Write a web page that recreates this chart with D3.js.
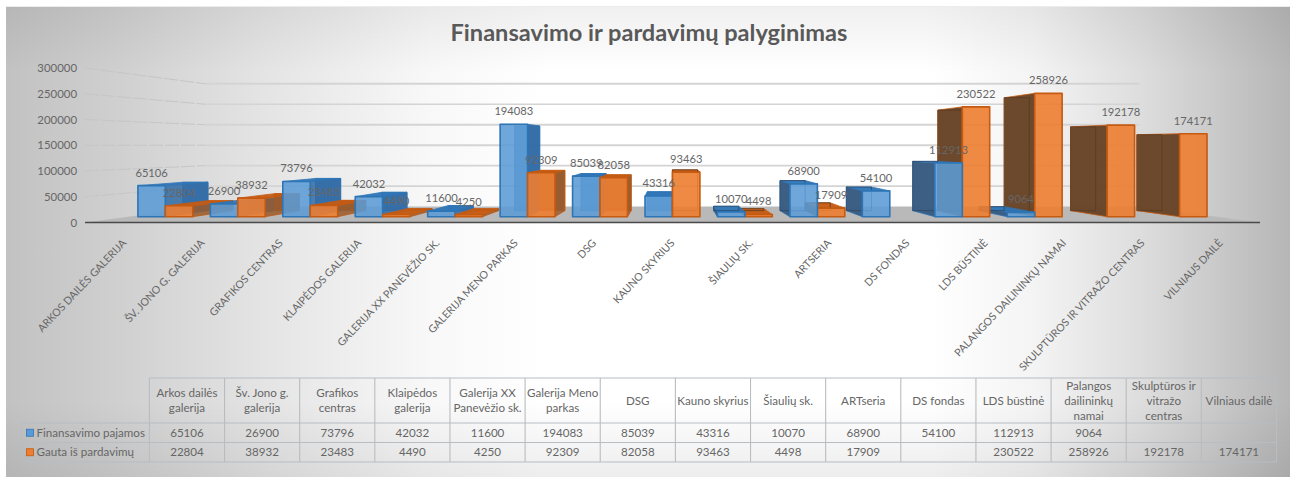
<!DOCTYPE html>
<html><head><meta charset="utf-8">
<script src="https://cdnjs.cloudflare.com/ajax/libs/d3/7.8.5/d3.min.js"></script>
<style>html,body{margin:0;background:#fff}svg{display:block}text{font-family:Lato,sans-serif}</style>
</head><body><svg id="c" width="1290" height="477"></svg>
<script>
const categories=["ARKOS DAILĖS GALERIJA","ŠV. JONO G. GALERIJA","GRAFIKOS CENTRAS","KLAIPĖDOS GALERIJA","GALERIJA XX PANEVĖŽIO SK.","GALERIJA MENO PARKAS","DSG","KAUNO SKYRIUS","ŠIAULIŲ SK.","ARTSERIA","DS FONDAS","LDS BŪSTINĖ","PALANGOS DAILININKŲ NAMAI","SKULPTŪROS IR VITRAŽO CENTRAS","VILNIAUS DAILĖ"];
const tableHeaders=[["Arkos dailės","galerija"],["Šv. Jono g.","galerija"],["Grafikos","centras"],["Klaipėdos","galerija"],["Galerija XX","Panevėžio sk."],["Galerija Meno","parkas"],["DSG"],["Kauno skyrius"],["Šiaulių sk."],["ARTseria"],["DS fondas"],["LDS būstinė"],["Palangos","dailininkų","namai"],["Skulptūros ir","vitražo","centras"],["Vilniaus dailė"]];
const seriesNames=["Finansavimo pajamos","Gauta iš pardavimų"];
const finansavimo=[65106,26900,73796,42032,11600,194083,85039,43316,10070,68900,54100,112913,9064,null,null];
const pardavimai=[22804,38932,23483,4490,4250,92309,82058,93463,4498,17909,null,230522,258926,192178,174171];
const yTicks=[0,50000,100000,150000,200000,250000,300000];
const title="Finansavimo ir pardavimų palyginimas";

const svg=d3.select("#c"), defs=svg.append("defs");
const g1=defs.append("linearGradient").attr("id","bg");
[[0,"#c2c2c2"],[.09,"#d0d0d0"],[.2,"#e4e4e4"],[.33,"#f8f8f8"],[.42,"#ffffff"],[.72,"#ffffff"],[.8,"#f4f4f4"],[.885,"#dddddd"],[1,"#b6b6b6"]].forEach(s=>g1.append("stop").attr("offset",s[0]).attr("stop-color",s[1]));
const g2=defs.append("linearGradient").attr("id","vg").attr("x1",0).attr("x2",0).attr("y1",0).attr("y2",1);
[[0,.06],[.14,0],[.84,0],[1,.07]].forEach(s=>g2.append("stop").attr("offset",s[0]).attr("stop-color","#000").attr("stop-opacity",s[1]));
svg.append("rect").attr("x",6).attr("y",7).attr("width",1284).attr("height",470).attr("fill","url(#bg)");
svg.append("rect").attr("x",6).attr("y",7).attr("width",1284).attr("height",470).attr("fill","url(#vg)");
svg.append("line").attr("x1",6).attr("x2",1290).attr("y1",6.5).attr("y2",6.5).attr("stroke","#ececec");

const vx=672,vy=145,k=0.258;
const x=d3.scaleBand().domain(d3.range(categories.length)).range([85,1260]);
const y=d3.scaleLinear().domain([0,300000]).range([222.5,68]);
const inner=d3.scaleBand().domain([0,1]).range([0,x.bandwidth()]).paddingOuter(0.32).paddingInner(0);
const P=(px,py,z)=>{const s=1/(1+k*z);return [vx+(px-vx)*s,vy+(py-vy)*s];};
const poly=d3.line();
const Z0=0.315,Z1=0.70;

svg.append("path").attr("d",poly([P(85,y(0),0),P(1260,y(0),0),P(1260,y(0),1),P(85,y(0),1)])+"Z").attr("fill","#b9b9b9");
yTicks.slice(1).forEach(t=>{
  svg.append("path").attr("d",poly([P(85,y(t),1),P(1260,y(t),1)])).attr("stroke","#d4d4d4").attr("stroke-width",t===300000||t===150000||t===200000?2:1.6).attr("fill","none");
  svg.append("path").attr("d",poly([P(85,y(t),0),P(85,y(t),1)])).attr("stroke","#c6c6c6").attr("stroke-width",1).attr("stroke-dasharray","14 2").attr("fill","none");
});

const styles=[
 {front:"#5b9bd5",fo:.88,edge:"#2e75b6",top:"#2e75b6",sideR:"#2f6aa5",sideL:"#3a5c82",back:"#4a7fb5"},
 {front:"#ed7d31",fo:.9,edge:"#c55a11",top:"#c55a11",sideR:"#9a5a2c",sideL:"#694528",back:"#7a4f2e"}
];
const bars=[];
categories.forEach((c,i)=>{[finansavimo[i],pardavimai[i]].forEach((v,si)=>{if(v!=null)bars.push({i,si,v,x0:x(i)+inner(si),x1:x(i)+inner(si)+inner.bandwidth()});});});
const left=bars.filter(b=>(b.x0+b.x1)/2<vx).sort((a,b)=>a.x0-b.x0);
const right=bars.filter(b=>(b.x0+b.x1)/2>=vx).sort((a,b)=>b.x0-a.x0);
const face=(pts,fill,op,edge,sw)=>svg.append("path").attr("d",poly(pts)+"Z").attr("fill",fill).attr("fill-opacity",op).attr("stroke",edge).attr("stroke-width",sw).attr("stroke-linejoin","round");
[...left,...right].forEach(b=>{
  const st=styles[b.si],yb=y(0),yt=y(b.v);
  const bk=[P(b.x0,yb,Z1),P(b.x1,yb,Z1),P(b.x1,yt,Z1),P(b.x0,yt,Z1)];
  const sx=b.x1<vx?b.x1:(b.x0>vx?b.x0:null), isL=sx===b.x0;
  if(!isL) face(bk,st.back,.85,st.edge,.8);
  if(yt>vy) face([P(b.x0,yt,Z0),P(b.x1,yt,Z0),P(b.x1,yt,Z1),P(b.x0,yt,Z1)],st.top,.95,st.edge,.8);
  if(sx!==null) face([P(sx,yb,Z0),P(sx,yb,Z1),P(sx,yt,Z1),P(sx,yt,Z0)],isL?st.sideL:st.sideR,isL?.98:.85,st.edge,.8);
  if(isL) face(bk,"none",0,"#5a3a22",.8).attr("stroke",b.si?"#5a3a22":"#2c4767");
  face([P(b.x0,yb,Z0),P(b.x1,yb,Z0),P(b.x1,yt,Z0),P(b.x0,yt,Z0)],st.front,st.fo,st.edge,1.6);
});
svg.append("path").attr("d",poly([P(85,y(0),0),P(1260,y(0),0)])).attr("stroke","#4a4a4a").attr("stroke-width",1.6);

const txt="#666666";
const yAxis=d3.axisLeft(y).tickValues(yTicks).tickSize(0).tickPadding(8).tickFormat(d3.format("d"));
const ga=svg.append("g").attr("transform","translate(85,0)").call(yAxis);
ga.select(".domain").remove();
ga.selectAll("text").attr("font-size",11.4).attr("fill",txt).style("font-family","Lato,sans-serif");
bars.forEach(b=>{const p=P((b.x0+b.x1)/2,y(b.v),Z0);
  svg.append("text").attr("x",p[0]).attr("y",p[1]-13).attr("dy","0.35em").attr("text-anchor","middle").attr("font-size",11.2).attr("fill",txt).text(b.v);});
categories.forEach((c,i)=>{const cx=x(i)+x.bandwidth()/2;
  svg.append("text").attr("transform",`translate(${cx},${241}) rotate(-46.5)`).attr("text-anchor","end").attr("font-size",10.6).attr("fill",txt).attr("dy","0.35em").text(c);});
svg.append("text").attr("x",649).attr("y",40.5).attr("text-anchor","middle").attr("font-size",23.6).attr("font-weight",700).attr("fill","#595959").text(title);
const col=d3.scaleBand().domain(d3.range(15)).range([149.4,1276.5]);
const rowsY=[378,423,442.5,462],lc="#b8bdc1";
const L=(x1,y1,x2,y2)=>svg.append("line").attr("x1",x1).attr("y1",y1).attr("x2",x2).attr("y2",y2).attr("stroke",lc).attr("stroke-width",1.1);
L(149.4,378,1276.5,378);
rowsY.slice(1).forEach(r=>L(22,r,1276.5,r));
L(22,423,22,462);
d3.range(16).forEach(i=>{const xx=i<15?col(i):1276.5;L(xx,378,xx,462);});
const tfs=11.6;
tableHeaders.forEach((lines,i)=>{const cx=col(i)+col.bandwidth()/2,y0=400.5-(lines.length-1)*7.5;
  lines.forEach((l,j)=>svg.append("text").attr("x",cx).attr("y",y0+j*15).attr("dy","0.35em").attr("text-anchor","middle").attr("font-size",tfs).attr("fill",txt).text(l));});
[finansavimo,pardavimai].forEach((s,si)=>{const ry=(rowsY[si+1]+rowsY[si+2])/2;
  svg.append("rect").attr("x",26.5).attr("y",ry-3.5).attr("width",7).attr("height",7).attr("fill",styles[si].front).attr("stroke",styles[si].edge).attr("stroke-width",.8);
  svg.append("text").attr("x",36.5).attr("y",ry).attr("dy","0.35em").attr("font-size",tfs).attr("fill",txt).text(seriesNames[si]);
  s.forEach((v,i)=>{if(v!=null)svg.append("text").attr("x",col(i)+col.bandwidth()/2).attr("y",ry).attr("dy","0.35em").attr("text-anchor","middle").attr("font-size",tfs).attr("fill",txt).text(v);});
});
</script></body></html>
